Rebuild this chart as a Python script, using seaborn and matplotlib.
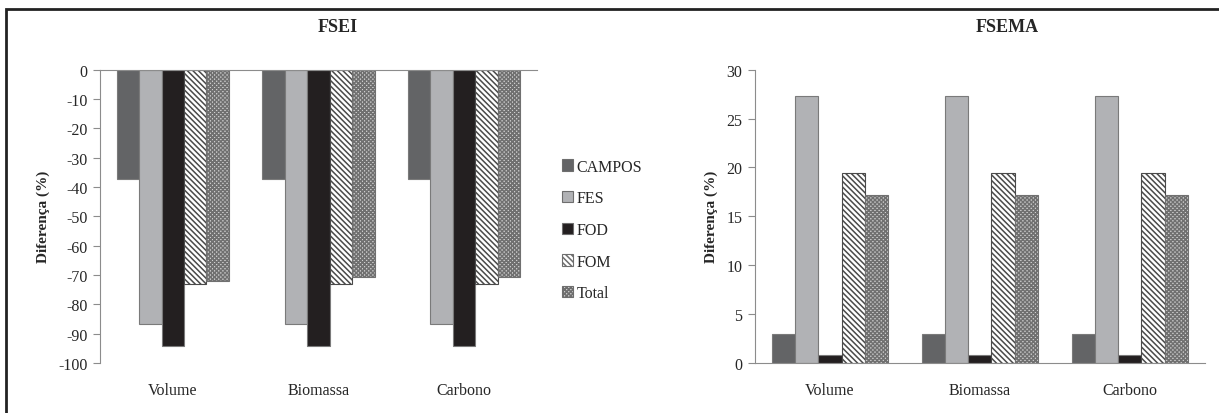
import pandas as pd
import matplotlib.pyplot as plt
import matplotlib.patches as mpatches
import seaborn as sns

# data
categorias = ['Volume', 'Biomassa', 'Carbono']
grupos = ['CAMPOS', 'FES', 'FOD', 'FOM', 'Total']

fsei = {
    'CAMPOS': [-37.2, -37.2, -37.2],
    'FES': [-86.8, -86.8, -86.8],
    'FOD': [-94.4, -94.4, -94.4],
    'FOM': [-73.0, -73.0, -73.0],
    'Total': [-72.0, -70.8, -70.6],
}
fsema = {
    'CAMPOS': [3.0, 3.0, 3.0],
    'FES': [27.3, 27.3, 27.3],
    'FOD': [0.8, 0.8, 0.8],
    'FOM': [19.4, 19.4, 19.4],
    'Total': [17.2, 17.2, 17.2],
}

cores = {'CAMPOS': '#636466', 'FES': '#b1b2b5', 'FOD': '#231f20',
         'FOM': 'white', 'Total': '#d0d0d0'}
hachuras = {'CAMPOS': '', 'FES': '', 'FOD': '', 'FOM': '\\\\\\\\\\\\', 'Total': 'xxxxxxxx'}


def to_long(d):
    rows = []
    for g in grupos:
        for c, v in zip(categorias, d[g]):
            rows.append({'categoria': c, 'grupo': g, 'valor': v})
    return pd.DataFrame(rows)


sns.set_style('white')
plt.rcParams['font.family'] = ['Liberation Serif', 'DejaVu Serif']
plt.rcParams['axes.unicode_minus'] = False
plt.rcParams['hatch.linewidth'] = 1.1

fig = plt.figure(figsize=(12.19, 4.14), dpi=100)
ax1 = fig.add_axes([0.082, 0.121, 0.3585, 0.708])
ax2 = fig.add_axes([0.6194, 0.121, 0.369, 0.708])


def desenha(ax, d):
    df = to_long(d)
    sns.barplot(data=df, x='categoria', y='valor', hue='grupo', order=categorias,
                hue_order=grupos, palette=cores, width=0.77, gap=0,
                edgecolor='#7a7a7a', linewidth=0.8, saturation=1, ax=ax, legend=False)
    for g, cont in zip(grupos, ax.containers):
        for p in cont:
            p.set_hatch(hachuras[g])
            if g == 'FOM':
                p.set_edgecolor('#4a4a4a')
            if g == 'Total':
                p.set_edgecolor('#707070')
    ax.set_xlabel('')
    ax.set_ylabel('Diferença (%)', fontsize=11, fontweight='bold', labelpad=6)
    ax.set_xlim(-0.5, 2.5)
    ax.spines['right'].set_visible(False)
    ax.spines['left'].set_color('#8c8c8c')
    ax.tick_params(axis='y', direction='out', length=5, color='#8c8c8c',
                   labelsize=11.5, left=True, pad=4)
    ax.tick_params(axis='x', length=0, labelsize=11.5, pad=14)


desenha(ax1, fsei)
ax1.set_ylim(-100, 0)
ax1.set_yticks(range(-100, 1, 10))
ax1.spines['bottom'].set_visible(False)
ax1.spines['top'].set_visible(True)
ax1.spines['top'].set_color('#8c8c8c')
ax1.set_title('FSEI', fontsize=13, fontweight='bold', pad=28, x=0.545)

desenha(ax2, fsema)
ax2.set_ylim(0, 30)
ax2.set_yticks(range(0, 31, 5))
ax2.spines['top'].set_visible(False)
ax2.spines['bottom'].set_color('#8c8c8c')
ax2.set_title('FSEMA', fontsize=13, fontweight='bold', pad=28, x=0.56)

# legend between the two panels
handles = [mpatches.Patch(facecolor=cores[g], hatch=hachuras[g],
                          edgecolor='#6e6e6e', linewidth=0.8, label=g) for g in grupos]
fig.legend(handles=handles, loc='upper left', bbox_to_anchor=(0.456, 0.63),
           frameon=False, fontsize=11.5, handlelength=0.7, handleheight=0.7,
           handletextpad=0.2, labelspacing=0.98, borderaxespad=0)

# outer frame of the figure
fig.patches.append(mpatches.Rectangle((6 / 1219, -0.05), 1.2, 0.976 + 0.05,
                                      transform=fig.transFigure, fill=False,
                                      edgecolor='#222222', linewidth=2))

fig.savefig('out.png', dpi=100, facecolor='white')
